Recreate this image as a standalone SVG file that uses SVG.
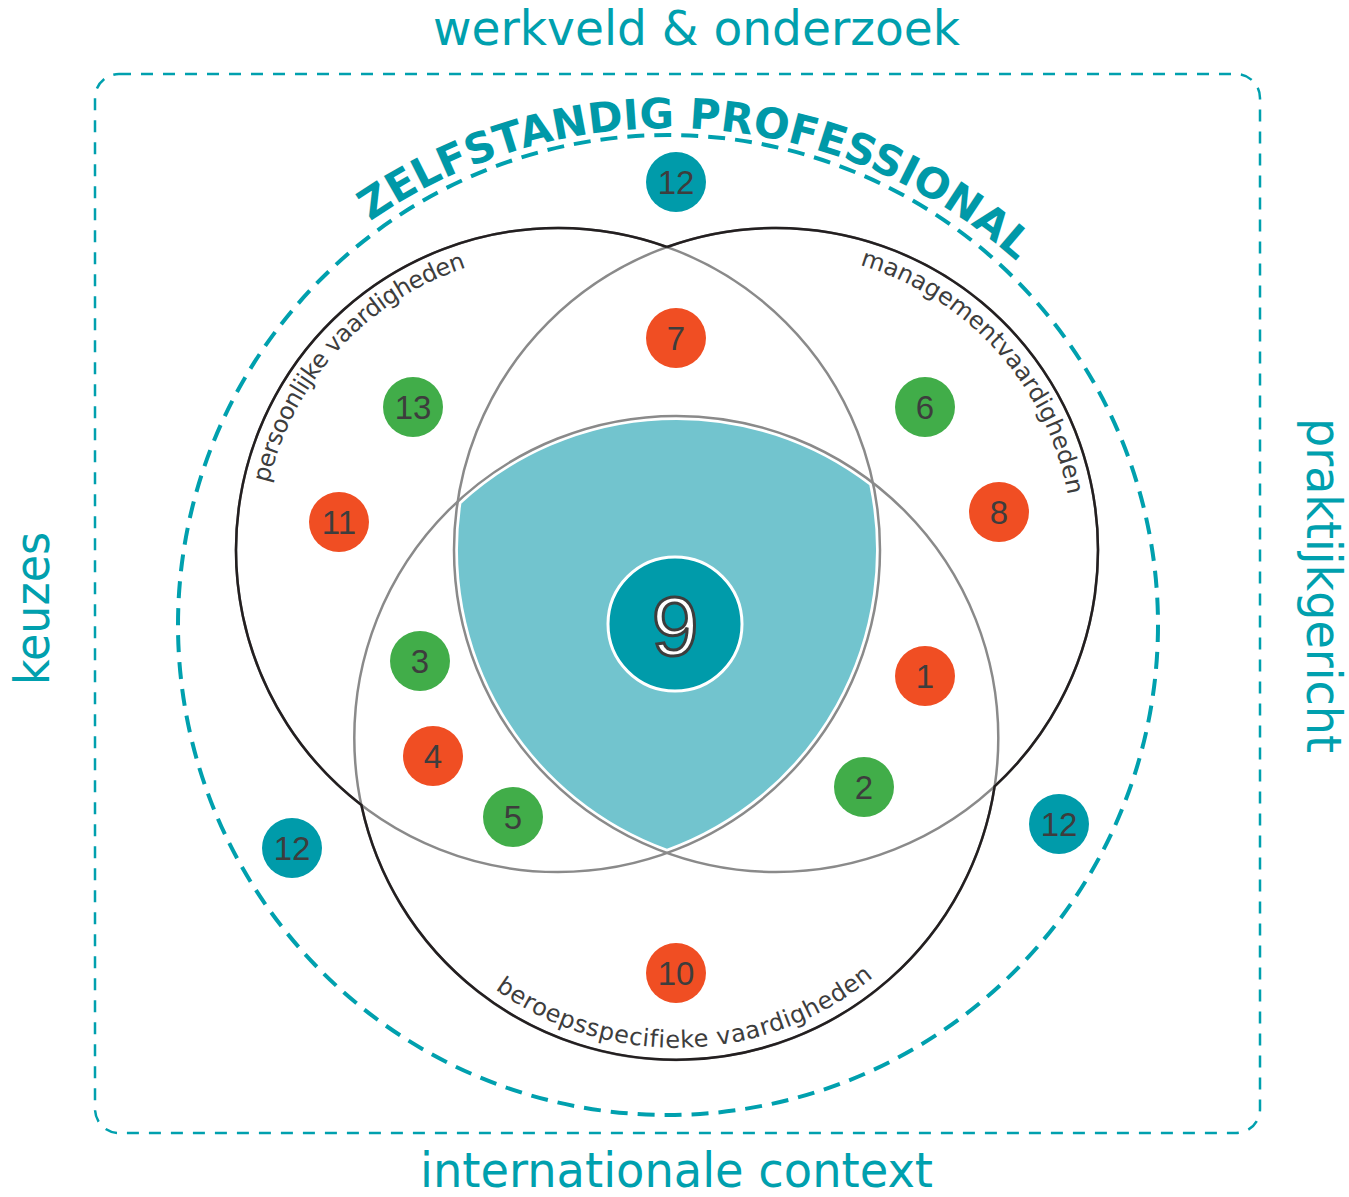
<svg xmlns="http://www.w3.org/2000/svg" width="1349" height="1197" viewBox="0 0 1349 1197">
<style>
.lbl{font-family:"DejaVu Sans","Liberation Sans",sans-serif;font-size:48px;fill:#00A0AE}
.arcl{font-family:"DejaVu Sans","Liberation Sans",sans-serif;font-size:24px;fill:#3d3d3d}
.num circle{stroke:none}
.num text{font-family:"Liberation Sans",Arial,sans-serif;font-size:33px;fill:#3d3d3d;text-anchor:middle}
.red circle{fill:#F04E23}
.green circle{fill:#41AD49}
.teal circle{fill:#009BAA}
.gray{fill:none;stroke:#8a8a8a;stroke-width:2.5}
</style>
<defs>
<path id="titleArc" d="M 146 650 A 522 522 0 0 1 1190 650"/>
<path id="persArc" d="M 261 550 A 297 297 0 0 1 558 253"/>
<path id="mgmtArc" d="M 776 253 A 297 297 0 0 1 1073 550"/>
<path id="beroArc" d="M 366.3 737.9 A 310 310 0 0 0 986.3 737.9"/>
</defs>
<rect width="1349" height="1197" fill="#fff"/>
<g id="frame">
<rect x="95" y="74" width="1165" height="1059" rx="24" fill="none" stroke="#00A0AE" stroke-width="2.5" stroke-dasharray="12 10"/>
<circle cx="668" cy="625" r="490" fill="none" stroke="#00A0AE" stroke-width="4" stroke-dasharray="17 10"/>
</g>
<g id="outer-labels">
<text class="lbl" x="433" y="45" textLength="527" lengthAdjust="spacingAndGlyphs">werkveld &amp; onderzoek</text>
<text class="lbl" x="420" y="1187" textLength="513" lengthAdjust="spacingAndGlyphs">internationale context</text>
<text class="lbl" transform="translate(49,685) rotate(-90)" x="0" y="0" textLength="153" lengthAdjust="spacingAndGlyphs">keuzes</text>
<text class="lbl" transform="translate(1307,418) rotate(90)" x="0" y="0" textLength="335" lengthAdjust="spacingAndGlyphs">praktijkgericht</text>
</g>
<g id="title">
<text font-family="DejaVu Sans, Liberation Sans, sans-serif" font-weight="bold" font-size="42" fill="#0099A8"><textPath href="#titleArc" startOffset="852" text-anchor="middle">ZELFSTANDIG PROFESSIONAL</textPath></text>
</g>
<g id="venn">
<path id="core" d="M 457.65 501.5 A 322 322 0 0 1 872.95 482.95 A 322 322 0 0 1 667 853 A 322 322 0 0 1 457.65 501.5 Z" fill="#72C4CE" stroke="#fff" stroke-width="8"/>
<circle class="gray" cx="558" cy="550" r="322"/>
<circle class="gray" cx="776" cy="550" r="322"/>
<circle class="gray" cx="676.3" cy="737.9" r="322"/>
<path d="M 667 247 A 322 322 0 0 0 361.4 805 A 322 322 0 0 0 994.6 786.4 A 322 322 0 0 0 667 247" fill="none" stroke="#231F20" stroke-width="2.5"/>
</g>
<g id="set-labels">
<text class="arcl" letter-spacing="-0.5"><textPath href="#persArc" startOffset="220" text-anchor="middle">persoonlijke vaardigheden</textPath></text>
<text class="arcl"><textPath href="#mgmtArc" startOffset="248" text-anchor="middle">managementvaardigheden</textPath></text>
<text class="arcl" letter-spacing="0.6"><textPath href="#beroArc" startOffset="497" text-anchor="middle">beroepsspecifieke vaardigheden</textPath></text>
</g>
<g id="n12-top" class="num teal"><circle cx="676" cy="182" r="30"/><text x="676" y="194">12</text></g>
<g id="n7" class="num red"><circle cx="676" cy="338" r="30"/><text x="676" y="350">7</text></g>
<g id="n13" class="num green"><circle cx="413" cy="407" r="30"/><text x="413" y="419">13</text></g>
<g id="n6" class="num green"><circle cx="925" cy="407" r="30"/><text x="925" y="419">6</text></g>
<g id="n11" class="num red"><circle cx="339" cy="522" r="30"/><text x="339" y="534">11</text></g>
<g id="n8" class="num red"><circle cx="999" cy="512" r="30"/><text x="999" y="524">8</text></g>
<g id="n3" class="num green"><circle cx="420" cy="661" r="30"/><text x="420" y="673">3</text></g>
<g id="n1" class="num red"><circle cx="925" cy="676" r="30"/><text x="925" y="688">1</text></g>
<g id="n4" class="num red"><circle cx="433" cy="756" r="30"/><text x="433" y="768">4</text></g>
<g id="n5" class="num green"><circle cx="513" cy="817" r="30"/><text x="513" y="829">5</text></g>
<g id="n2" class="num green"><circle cx="864" cy="787" r="30"/><text x="864" y="799">2</text></g>
<g id="n12-left" class="num teal"><circle cx="292" cy="848" r="30"/><text x="292" y="860">12</text></g>
<g id="n12-right" class="num teal"><circle cx="1059" cy="824" r="30"/><text x="1059" y="836">12</text></g>
<g id="n10" class="num red"><circle cx="676" cy="973" r="30"/><text x="676" y="985">10</text></g>
<g id="n9">
<circle cx="675" cy="624" r="67" fill="#009BAA" stroke="#fff" stroke-width="3"/>
<text x="675" y="655" font-family="Liberation Sans, Arial, sans-serif" font-size="84" fill="#fff" stroke="#3d3d3d" stroke-width="3" text-anchor="middle">9</text>
</g>
</svg>
